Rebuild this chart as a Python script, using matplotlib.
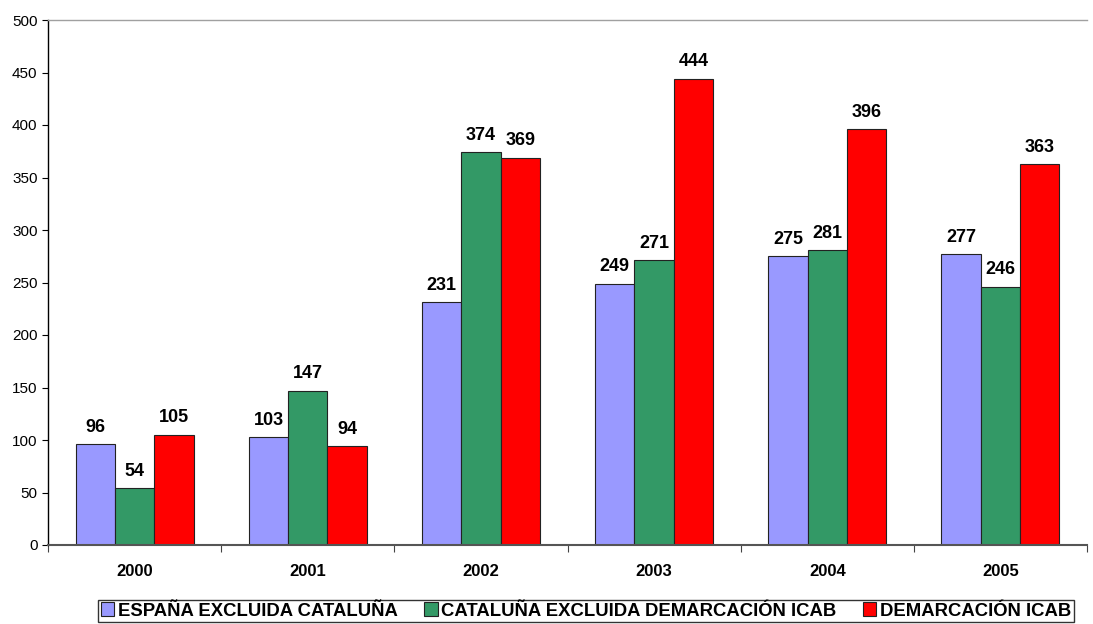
import matplotlib.pyplot as plt
import numpy as np

years = ['2000', '2001', '2002', '2003', '2004', '2005']
espana = [96, 103, 231, 249, 275, 277]
cataluna = [54, 147, 374, 271, 281, 246]
icab = [105, 94, 369, 444, 396, 363]
series_names = ['ESPAÑA EXCLUIDA CATALUÑA',
                'CATALUÑA EXCLUIDA DEMARCACIÓN ICAB',
                'DEMARCACIÓN ICAB']
colors = ['#9999FF', '#339966', '#FF0000']

plt.rcParams['font.family'] = ['Liberation Sans', 'DejaVu Sans']

fig = plt.figure(figsize=(10.93, 6.24), dpi=100)
ax = fig.add_axes([48 / 1093, 1 - 545 / 624, 1039 / 1093, 525 / 624])

x = np.arange(len(years))
w = 0.227
handles = []
for i, (vals, name, c) in enumerate(zip([espana, cataluna, icab], series_names, colors)):
    bars = ax.bar(x + (i - 1) * w, vals, w, color=c, edgecolor='#222222',
                  linewidth=0.8, label=name)
    handles.append(bars)
    for xi, v in zip(x + (i - 1) * w, vals):
        ax.annotate(str(v), (xi, v), xytext=(0, 6), textcoords='offset points',
                    ha='center', va='bottom', fontsize=13, fontweight='bold')

ax.set_xlim(-0.5, len(years) - 0.5)
ax.set_ylim(0, 500)
ax.set_yticks(range(0, 501, 50))
ax.tick_params(axis='y', labelsize=11, length=4, width=0.8)
ax.set_xticks(x)
ax.set_xticklabels(years, fontsize=12, fontweight='bold')
ax.tick_params(axis='x', length=0, pad=14)
ax.set_xticks(np.arange(-0.5, len(years), 1), minor=True)
ax.tick_params(axis='x', which='minor', length=5, width=0.8, color='#444444')

ax.spines['right'].set_visible(False)
ax.spines['top'].set_color('#A0A0A0')
ax.spines['top'].set_linewidth(1.0)
ax.spines['left'].set_linewidth(1.0)
ax.spines['bottom'].set_color('#555555')
ax.spines['bottom'].set_linewidth(1.5)

leg = fig.legend(handles=handles, loc='center', bbox_to_anchor=(586 / 1093, 1 - 611 / 624),
                 ncol=3, frameon=True, fancybox=False, edgecolor='black',
                 prop={'weight': 'bold', 'size': 13.3},
                 handlelength=0.75, handleheight=0.75, handletextpad=0.2, columnspacing=1.4,
                 borderpad=0.15, borderaxespad=0)
leg.get_frame().set_linewidth(1.0)

fig.savefig('out.png', dpi=100)
